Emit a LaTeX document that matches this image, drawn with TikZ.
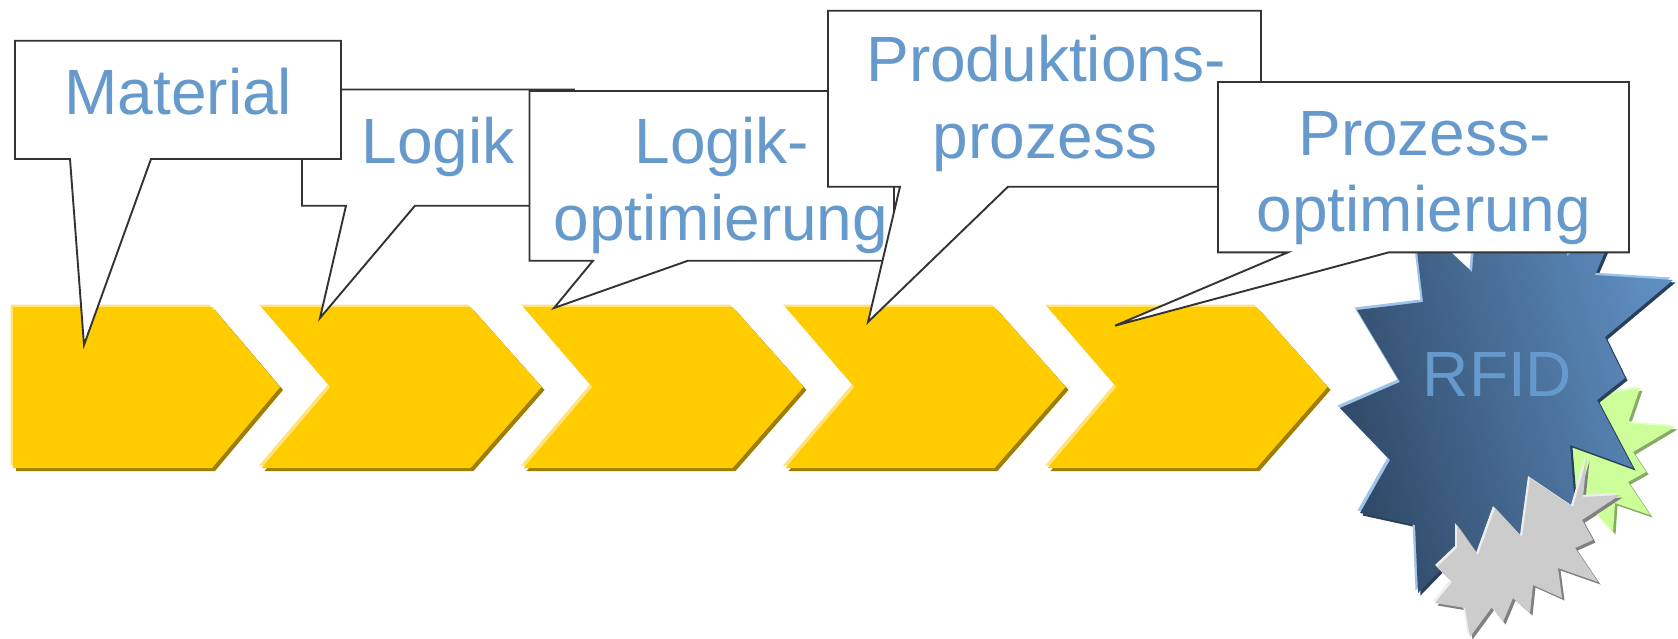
\documentclass[tikz,border=0pt]{standalone}
\usepackage{fontspec}
\setmainfont{Liberation Sans}
\definecolor{chevfill}{HTML}{FFCC00}
\definecolor{chevshadow}{HTML}{9E7E00}
\definecolor{chevlight}{HTML}{FFE27A}
\definecolor{txtblue}{HTML}{6699CC}
\definecolor{bubbleline}{HTML}{333333}
\definecolor{stardark}{HTML}{2F4866}
\definecolor{starlight}{HTML}{5F8FC2}
\definecolor{starhl}{HTML}{9FC3EA}
\definecolor{starsh}{HTML}{2A405A}
\definecolor{grayfill}{HTML}{CCCCCC}
\definecolor{graysh}{HTML}{808080}
\definecolor{grayhl}{HTML}{EEEEEE}
\definecolor{greenfill}{HTML}{CCFF99}
\definecolor{greensh}{HTML}{88AA66}
\definecolor{greenhl}{HTML}{E5FFCC}
\begin{document}
\begin{tikzpicture}[x=1pt,y=-1pt,
  bubble/.style={draw=bubbleline, fill=white, line width=1.9pt, line join=miter},
  lbl/.style={text=txtblue, font=\fontsize{64}{77}\selectfont, inner sep=0pt, anchor=base},
  chevmain/.style={fill=chevfill},
  chevsh/.style={fill=chevshadow, shift={(3,3)}},
  chevhl/.style={fill=chevlight, shift={(-2.5,-2.5)}}]
\useasboundingbox (0,0) rectangle (1678,638);
\fill[white] (0,0) rectangle (1678,638);

% chevrons
\def\ChevOne{(13,307) -- (212,307) -- (280,387) -- (212,468) -- (13,468) -- cycle}
\fill[chevsh] \ChevOne;
\fill[chevhl] \ChevOne;
\fill[chevmain] \ChevOne;
\foreach \L in {261.5,523.5,785.5,1047.5}{
  \def\ChevK{(\L,307) -- ({\L+209},307) -- ({\L+280},387) -- ({\L+209},468) -- (\L,468) -- ({\L+69},387) -- cycle}
  \fill[chevsh] \ChevK;
  \fill[chevhl] \ChevK;
  \fill[chevmain] \ChevK;
}

% green star
\def\GreenStar{(1575,430) -- (1600,395) -- (1640,388) -- (1628,423) -- (1675,427) -- (1633,452) -- (1646,472) -- (1628,482) -- (1650,515) -- (1615,503) -- (1613,532) -- (1595,512) -- (1575,525) -- (1560,480) -- cycle}
\fill[greensh, shift={(2.5,2.5)}] \GreenStar;
\fill[greenhl, shift={(-2,-2)}] \GreenStar;
\fill[greenfill] \GreenStar;

% dark blue star
\def\DarkStar{(1413,217) -- (1472,272) -- (1477,210) -- (1525,240) -- (1560,200) -- (1567,256) -- (1622,212) -- (1595,275) -- (1673,280) -- (1605,337) -- (1625,378) -- (1597,400) -- (1633,468) -- (1570,445) -- (1575,507) -- (1510,570) -- (1450,560) -- (1418,593) -- (1415,525) -- (1360,513) -- (1390,460) -- (1340,408) -- (1400,382) -- (1357,310) -- (1423,302) -- cycle}
\fill[starsh, shift={(2.5,2.5)}] \DarkStar;
\fill[starhl, shift={(-2.5,-2.5)}] \DarkStar;
\shade[top color=starlight, bottom color=stardark, shading angle=-75] \DarkStar;

% gray star
\def\GrayStar{(1457,525) -- (1478,555) -- (1495,508) -- (1522,537) -- (1530,478) -- (1573,507) -- (1587,458) -- (1583,497) -- (1620,495) -- (1582,520) -- (1593,540) -- (1575,548) -- (1598,582) -- (1558,568) -- (1562,598) -- (1533,585) -- (1530,613) -- (1513,598) -- (1503,622) -- (1492,607) -- (1470,637) -- (1465,608) -- (1435,603) -- (1452,582) -- (1437,567) -- (1457,548) -- cycle}
\fill[graysh, shift={(2.5,2.5)}] \GrayStar;
\fill[grayhl, shift={(-2,-2)}] \GrayStar;
\fill[grayfill] \GrayStar;

\node[lbl] (rfid) at (1497.5,396.7) {RFID};

% callouts
\draw[bubble] (302,89.5) -- (574,89.5) -- (574,205.7) -- (415,205.7) -- (320,318) -- (346,205.7) -- (302,205.7) -- cycle;
\node[lbl] (logik) at (438.2,163.3) {Logik};

\draw[bubble] (15,40.7) -- (341,40.7) -- (341,159) -- (151,159) -- (84,345) -- (70,159) -- (15,159) -- cycle;
\node[lbl] (material) at (178.4,114.3) {Material};

\draw[bubble] (529.5,91) -- (894,91) -- (894,260.7) -- (688,260.7) -- (554,308) -- (593,260.7) -- (529.5,260.7) -- cycle;
\node[lbl] (logikA) at (721.6,163.3) {Logik-};
\node[lbl] (logikB) at (721,240) {optimierung};

\draw[bubble] (828,10.7) -- (1261,10.7) -- (1261,186.7) -- (1008,186.7) -- (868,322) -- (900,186.7) -- (828,186.7) -- cycle;
\node[lbl] (prodA) at (1046,81.7) {Produktions-};
\node[lbl] (prodB) at (1045,158.3) {prozess};

\draw[bubble] (1218,82) -- (1629,82) -- (1629,252.3) -- (1389,252.3) -- (1115,325.7) -- (1288,252.3) -- (1218,252.3) -- cycle;
\node[lbl] (prozA) at (1424.6,155) {Prozess-};
\node[lbl] (prozB) at (1424,231.7) {optimierung};
\end{tikzpicture}
\end{document}
